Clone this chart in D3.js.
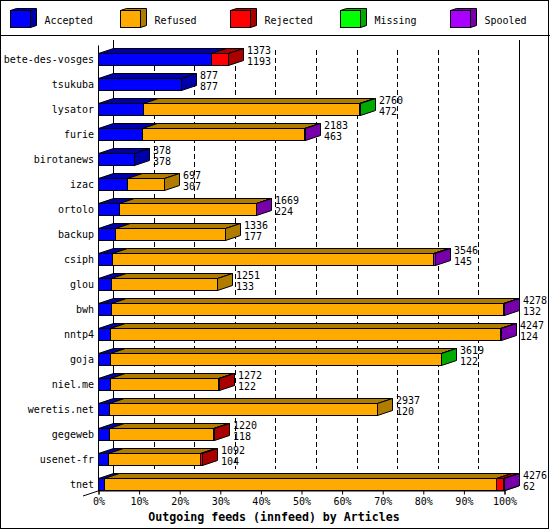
<!DOCTYPE html>
<html><head><meta charset="utf-8">
<script src="https://cdn.jsdelivr.net/npm/d3@7"></script>
<style>html,body{margin:0;padding:0;background:#fff}svg{display:block}
text{font-family:"DejaVu Sans Mono",monospace;font-size:10px;fill:#000}</style>
</head><body><div id="c"></div>
<script>
const hosts=["bete-des-vosges","tsukuba","lysator","furie","birotanews","izac","ortolo","backup","csiph","glou","bwh","nntp4","goja","niel.me","weretis.net","gegeweb","usenet-fr","tnet"];
const totals=[1373,877,2760,2183,378,697,1669,1336,3546,1251,4278,4247,3619,1272,2937,1220,1092,4276];
const accepted=[1193,877,472,463,378,307,224,177,145,133,132,124,122,122,120,118,104,62];
const refused=[0,0,2278,1712,0,390,1437,1159,3386,1118,4136,4113,3487,1138,2817,1090,976,4134];
const rejected=[180,0,0,0,0,0,0,0,0,0,0,0,0,12,0,12,12,70];
const missing=[0,0,10,0,0,0,0,0,0,0,0,0,10,0,0,0,0,0];
const spooled=[0,0,0,8,0,0,8,0,15,0,10,10,0,0,0,0,0,10];
const seriesNames=["Accepted","Refused","Rejected","Missing","Spooled"];
const seriesFront=["#0000ff","#ffaa00","#ff0000","#00ff00","#aa00ff"];
const seriesDark=["#0000aa","#b07c00","#aa0000","#00aa00","#7700aa"];
const pctTicks=[0,10,20,30,40,50,60,70,80,90,100];
const axisTitle="Outgoing feeds (innfeed) by Articles";

const series=[accepted,refused,rejected,missing,spooled];
const maxTotal=d3.max(totals);
const W=550,H=530,DX=15,DY=5,BAR=12;
const x=d3.scaleLinear().domain([0,100]).range([98,504]);
const y=d3.scalePoint().domain(hosts).range([53,478]);
const px=v=>Math.round(x(v/maxTotal*100))+0.5;
const svg=d3.select("#c").append("svg").attr("width",W).attr("height",H);

svg.append("rect").attr("x",0.5).attr("y",0.5).attr("width",548).attr("height",528).attr("fill","#fff").attr("stroke","#000");
svg.append("line").attr("x1",0).attr("x2",W).attr("y1",35.5).attr("y2",35.5).attr("stroke","#000");

// legend
const lx=d3.scalePoint().domain(seriesNames).range([10.5,450.5]);
const lg=svg.append("g").selectAll("g").data(seriesNames).join("g").attr("transform",d=>`translate(${lx(d)},10.5)`);
lg.append("path").attr("d","M0,0L6,-2L26,-2L26,15L20,17L20,0Z").attr("fill",(d,i)=>seriesDark[i]).attr("stroke","#000");
lg.append("rect").attr("width",20).attr("height",17).attr("fill",(d,i)=>seriesFront[i]).attr("stroke","#000");
lg.append("text").attr("x",34).attr("y",13).text(d=>d);

// walls
const wall=svg.append("g").attr("stroke","#000").attr("shape-rendering","crispEdges");
pctTicks.slice(1,-1).forEach(t=>{
  wall.append("line").attr("x1",Math.round(x(t))+DX+.5).attr("x2",Math.round(x(t))+DX+.5)
    .attr("y1",50).attr("y2",469).attr("stroke-dasharray","5 3");
});
[0,100].forEach(t=>wall.append("line").attr("x1",x(t)+DX+.5).attr("x2",x(t)+DX+.5).attr("y1",40).attr("y2",486));
svg.append("path").attr("d",`M${x(0)+.5},45.5V491`).attr("stroke","#000").attr("fill","none");
svg.append("path").attr("d",`M83,496L${x(0)},491`).attr("stroke","#000").attr("fill","none");
svg.append("path").attr("d",`M${x(100)},491L${x(100)+DX},486`).attr("stroke","#000").attr("fill","none");

// bars
hosts.forEach((h,i)=>{
  const g=svg.append("g");
  const t=y(h)+.5;
  let cum=0,last=0,endX=x(0)+.5;
  series.forEach((s,k)=>{
    const v=s[i];
    if(!v)return;
    const a=px(cum),b=px(cum+v);
    g.append("path").attr("d",`M${a},${t}L${a+DX},${t-DY}L${b+DX},${t-DY}L${b},${t}Z`)
      .attr("fill",seriesDark[k]).attr("stroke","#000");
    g.append("rect").attr("x",a).attr("y",t).attr("width",b-a).attr("height",BAR)
      .attr("fill",seriesFront[k]).attr("stroke","#000");
    cum+=v;last=k;endX=b;
  });
  g.append("path").attr("d",`M${endX},${t}L${endX+DX},${t-DY}V${t-DY+BAR}L${endX},${t+BAR}Z`)
    .attr("fill",seriesDark[last]).attr("stroke","#000");
  const lxp=Math.round(x(totals[i]/maxTotal*100))+DX+4;
  svg.append("text").attr("x",lxp).attr("y",y(h)+1).text(totals[i]);
  svg.append("text").attr("x",lxp).attr("y",y(h)+12).text(accepted[i]);
});

// axes
const ax=svg.append("g").attr("transform","translate(0.5,490.5)")
  .call(d3.axisBottom(x).tickValues(pctTicks).tickFormat(d=>d+"%").tickSize(4).tickPadding(3));
ax.select(".domain").attr("stroke","#000");
ax.selectAll("line").attr("stroke","#000");
ax.selectAll("text").style("font-family",'"DejaVu Sans Mono",monospace').style("font-size","10px").attr("fill","#000");
const ay=svg.append("g").attr("transform","translate(95,0)")
  .call(d3.axisLeft(d3.scalePoint().domain(hosts).range([53+6,478+6])).tickSize(0).tickPadding(1));
ay.select(".domain").remove();
ay.selectAll("text").style("font-family",'"DejaVu Sans Mono",monospace').style("font-size","10px").attr("fill","#000");

svg.append("text").attr("x",274).attr("y",521).attr("text-anchor","middle")
  .style("font-size","11.6px").style("font-weight","bold").text(axisTitle);
</script></body></html>
